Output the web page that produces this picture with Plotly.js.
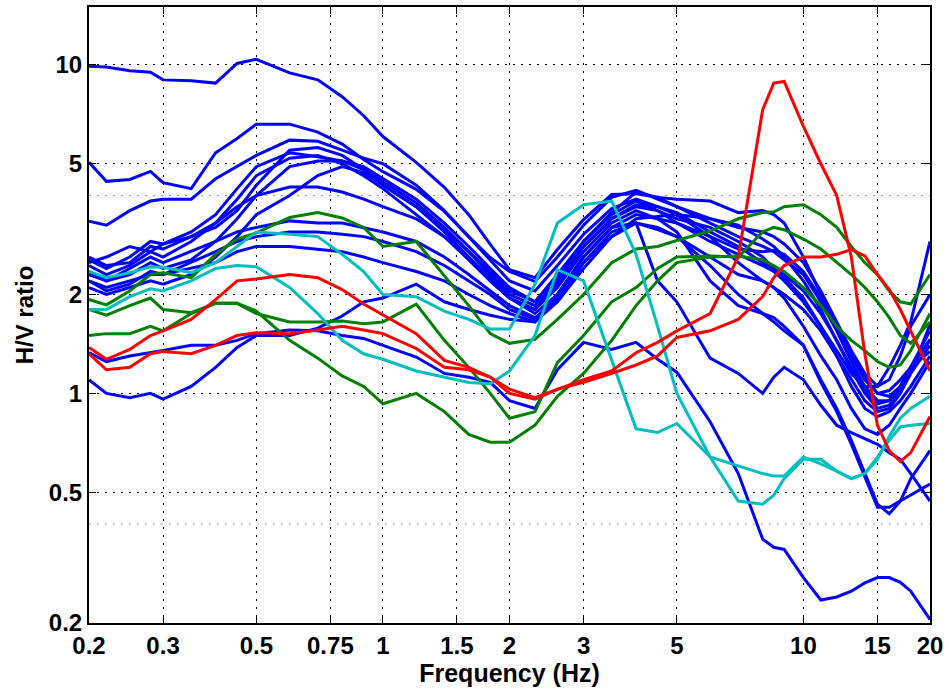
<!DOCTYPE html>
<html>
<head>
<meta charset="utf-8">
<script src="https://cdn.plot.ly/plotly-3.0.1.min.js"></script>
<style>html,body{margin:0;padding:0;background:#fff;}#chart{width:949px;height:693px;}</style>
</head>
<body>
<div id="chart"></div>
<script>
// Frequency grid (Hz)
const freq = [0.2,0.22,0.25,0.28,0.3,0.35,0.4,0.45,0.5,0.6,0.7,0.8,0.9,1,1.2,1.4,1.6,1.8,2,2.3,2.6,3,3.5,4,4.5,5,6,7,8,8.5,9,10,11,12,13,14,15,16,17,18,20];

// Blue H/V curves
const blue1 = [9.9,9.85,9.6,9.5,9.0,8.95,8.8,10.1,10.4, 9.45,9.0,8.0,7.0,6.05, 5.05,4.24,3.5,2.84,2.38, 2.25,2.74,3.38,4.03,4.05, 3.95,3.9, 3.85,3.55,3.6,3.5,3.3, 2.6,2.0,1.6,1.3,1.1,1.0,1.02,1.1,1.2,1.34];
const blue2 = [5.05,4.42,4.48,4.74,4.38,4.2,5.4,5.97,6.6, 6.6,6.24,5.74,5.15,4.73, 4.18,3.58,3.0,2.59,2.35, 2.19,2.6,3.25,3.95,4.15, 3.9,3.7, 3.3,3.0,2.8,2.7,2.55, 2.3,1.9,1.55,1.25,1.05,0.95,0.95,1.05,1.2,1.46];
const blue3 = [3.34,3.25,3.6,3.85,3.9,3.9,4.5,4.9,5.3, 5.9,5.85,5.5,5.2,5.0, 4.3,3.6,3.0,2.55,2.2, 2.05,2.45,3.05,3.65,3.9, 3.7,3.5, 3.0,2.5,2.2,2.1,2.0, 1.8,1.55,1.3,1.1,0.95,0.88,0.9,1.0,1.15,1.62];
const blue4 = [2.55,2.4,2.6,2.9,2.85,3.1,3.5,4.2,4.9, 5.4,5.25,5.1,4.8,4.4, 3.8,3.2,2.7,2.3,2.0, 1.85,2.2,2.8,3.4,3.7, 3.6,3.4, 3.2,2.9,2.6,2.4,2.25, 1.95,1.6,1.3,1.05,0.9,0.85,0.88,0.95,1.05,1.3];
const blue5 = [2.45,2.3,2.45,2.7,2.6,2.9,3.3,3.9,4.6, 5.2,5.3,5.0,4.6,4.2, 3.5,3.0,2.55,2.2,1.95, 1.8,2.1,2.7,3.3,3.6, 3.4,3.1, 2.2,1.85,1.75,1.7,1.6, 1.4,1.1,0.9,0.72,0.57,0.46,0.43,0.47,0.55,0.67];
const blue6 = [2.35,2.2,2.3,2.5,2.4,2.55,2.9,3.4,4.0, 4.9,5.1,5.1,4.9,4.5, 3.9,3.3,2.8,2.4,2.1, 1.9,2.3,2.9,3.5,3.85, 3.6,3.3, 2.9,2.65,2.45,2.35,2.2, 1.9,1.6,1.35,1.15,1.05,1.05,1.2,1.4,1.65,2.9];
const blue7 = [2.5,2.6,2.8,2.7,2.85,3.0,3.3,3.7,4.0, 4.25,4.25,4.1,3.9,3.7, 3.4,3.0,2.6,2.25,1.95, 1.75,2.0,2.6,3.2,3.5, 3.4,3.3, 3.0,2.75,2.7,2.72,2.65, 2.35,1.95,1.6,1.3,1.12,1.0,0.98,1.05,1.2,1.55];
const blue8 = [2.3,2.2,2.4,2.6,2.5,2.7,2.9,3.1,3.2, 3.35,3.3,3.3,3.2,3.1, 2.9,2.6,2.3,2.05,1.85, 1.7,1.9,2.4,3.0,3.4, 3.45,3.5, 3.4,3.2,3.1,3.0,2.85, 2.5,2.05,1.65,1.35,1.15,1.05,1.1,1.3,1.6,2.0];
const blue9 = [2.2,2.1,2.2,2.3,2.3,2.4,2.5,2.7,2.8, 2.8,2.75,2.7,2.6,2.5, 2.35,2.2,2.0,1.85,1.75, 1.65,1.9,2.5,3.1,3.3, 3.15,3.0, 2.6,2.3,2.2,2.1,1.95, 1.6,1.3,1.1,0.9,0.78,0.75,0.8,0.9,1.0,1.25];
const blue10 = [2.2,2.05,2.15,2.35,2.3,2.5,2.7,2.9,3.0, 3.1,3.1,3.05,3.0,2.9, 2.7,2.45,2.2,2.0,1.8, 1.68,2.0,2.6,3.2,3.3, 2.2,1.9, 1.28,1.15,1.0,1.12,1.2, 1.1,0.92,0.8,0.76,0.73,0.7,0.66,0.63,0.57,0.47];
const blue11 = [2.1,2.0,2.1,2.2,2.15,2.3,2.6,3.0,3.5, 4.0,4.6,4.9,4.7,4.3, 3.7,3.1,2.6,2.2,1.95, 1.8,2.15,2.8,3.4,3.75, 3.7,3.55, 3.1,2.8,2.5,2.4,2.3, 2.05,1.75,1.45,1.2,1.02,0.93,0.95,1.05,1.2,1.45];
const blue12 = [2.6,2.45,2.5,2.8,2.75,3.0,3.2,3.6,4.3, 5.5,5.6,5.3,4.8,4.3, 3.7,3.15,2.7,2.35,2.05, 1.9,2.25,2.9,3.55,4.1, 3.95,3.7, 3.4,3.25,2.95,2.8,2.6, 2.2,1.8,1.45,1.18,1.0,0.9,0.92,1.02,1.15,1.4];
const blue13 = [1.1,1.0,0.97,1.0,0.96,1.05,1.2,1.38,1.5, 1.5,1.58,1.72,1.9,1.95, 2.15,1.9,1.8,1.73,1.68, 1.65,1.95,2.5,3.0,3.3, 3.2,3.0, 2.45,2.0,1.75,1.65,1.55, 1.4,1.08,0.88,0.7,0.56,0.45,0.45,0.47,0.49,0.53];
const blue14 = [1.33,1.25,1.3,1.33,1.35,1.4,1.4,1.45,1.52, 1.56,1.55,1.5,1.47,1.4, 1.29,1.15,1.12,1.08,0.95, 0.9,1.18,1.43,1.36,1.43, 1.27,1.16, 0.82,0.57,0.36,0.34,0.335, 0.275,0.235,0.24,0.25,0.265,0.275,0.275,0.266,0.25,0.205];

// Green curves
const green1 = [1.93,1.86,2.05,2.3,2.33,2.25,2.65,2.95,3.08, 3.43,3.55,3.42,3.2,2.8, 2.9,2.27,1.85,1.52,1.42, 1.46,1.68,2.0,2.5,2.75, 2.8,2.92, 3.12,3.4,3.55,3.57,3.7, 3.75,3.5,3.2,2.8,2.5,2.3,2.05,1.9,1.87,2.3];
const green2 = [1.8,1.73,1.85,1.95,1.8,1.76,1.88,1.88,1.75, 1.65,1.65,1.66,1.63,1.65, 1.87,1.45,1.2,1.0,0.84, 0.88,1.24,1.5,1.9,2.1, 2.4,2.6, 2.62,2.6,3.1,3.2,3.15, 2.95,2.75,2.5,2.3,2.1,1.9,1.7,1.5,1.42,1.65];
const green3 = [1.5,1.52,1.52,1.6,1.55,1.75,1.88,1.88,1.78, 1.45,1.28,1.13,1.05,0.93, 1.0,0.88,0.75,0.71,0.71, 0.8,0.98,1.15,1.45,1.85, 2.2,2.5, 2.6,2.62,2.55,2.45,2.35, 2.1,1.85,1.6,1.45,1.35,1.25,1.2,1.22,1.35,1.75];

// Cyan curves
const cyan1 = [2.35,2.25,2.33,2.43,2.42,2.33,2.5,2.8,3.1, 3.05,3.0,2.65,2.35,2.0, 1.97,1.78,1.68,1.57,1.57, 2.15,3.3,3.75,3.85,2.65, 1.6,1.0, 0.64,0.47,0.46,0.49,0.55, 0.63,0.63,0.58,0.55,0.57,0.63,0.74,0.84,0.9,0.98];
const cyan2 = [1.8,1.8,1.97,2.08,2.05,2.2,2.4,2.45,2.43, 2.1,1.75,1.45,1.32,1.27, 1.17,1.12,1.08,1.07,1.17, 1.5,2.38,2.2,1.27,0.78, 0.76,0.81, 0.64,0.6,0.57,0.56,0.56, 0.64,0.61,0.58,0.55,0.57,0.64,0.72,0.79,0.8,0.81];

// Red curves
const red1 = [1.38,1.27,1.36,1.5,1.55,1.68,1.93,2.2,2.23, 2.3,2.25,2.07,1.87,1.73, 1.52,1.26,1.2,1.12,1.03, 0.97,1.03,1.1,1.17,1.33, 1.43,1.55, 1.75,2.6,7.3,8.8,8.9, 6.5,5.0,4.0,2.6,1.32,0.8,0.67,0.62,0.66,0.85];
const red2 = [1.32,1.18,1.2,1.32,1.34,1.32,1.4,1.5,1.53, 1.52,1.56,1.6,1.56,1.52, 1.37,1.2,1.18,1.12,1.0, 0.96,1.03,1.08,1.15,1.22, 1.3,1.48, 1.55,1.68,1.97,2.25,2.45, 2.6,2.6,2.65,2.74,2.62,2.3,2.07,1.8,1.55,1.17];

// Axis ticks
const xTicks = [0.2,0.3,0.5,0.75,1,1.5,2,3,5,10,15,20];
const xTickText = ['0.2','0.3','0.5','0.75','1','1.5','2','3','5','10','15','20'];
const yTicks = [0.2,0.5,1,2,5,10];
const yTickText = ['0.2','0.5','1','2','5','10'];
const yExtraGrid = [0.4,4];

const groups = [
  {color:'#0000ff', series:[blue1,blue2,blue3,blue4,blue5,blue6,blue7,blue8,blue9,blue10,blue11,blue12,blue13,blue14]},
  {color:'#008000', series:[green1,green2,green3]},
  {color:'#00bfbf', series:[cyan1,cyan2]},
  {color:'#ff0000', series:[red1,red2]}
];

const traces = [];
groups.forEach(g => g.series.forEach(s => traces.push({
  x: freq, y: s, type:'scatter', mode:'lines',
  line:{color:g.color, width:3}, hoverinfo:'skip'
})));

const FONT = '"Liberation Sans", Arial, Helvetica, sans-serif';
const gridDash = '2px,6px';

const layout = {
  width:949, height:693,
  margin:{l:89, r:19, t:7, b:70, pad:0},
  paper_bgcolor:'#ffffff', plot_bgcolor:'#ffffff',
  showlegend:false,
  font:{family:FONT, color:'#000'},
  xaxis:{
    type:'log', range:[Math.log10(0.2), Math.log10(20)],
    tickmode:'array', tickvals:xTicks, ticktext:xTickText,
    tickfont:{family:FONT, size:24, weight:'bold', color:'#000'},
    ticks:'inside', ticklen:7, tickwidth:1, tickcolor:'#000',
    showline:true, linecolor:'#000', linewidth:2, mirror:'ticks',
    showgrid:true, gridcolor:'#000', gridwidth:1, griddash:gridDash,
    zeroline:false, automargin:false,
    title:{text:'Frequency (Hz)', font:{family:FONT, size:25, weight:'bold', color:'#000'}, standoff:3}
  },
  yaxis:{
    type:'log', range:[Math.log10(0.2), Math.log10(15)],
    tickmode:'array', tickvals:yTicks, ticktext:yTickText,
    tickfont:{family:FONT, size:24, weight:'bold', color:'#000'},
    ticks:'inside', ticklen:7, tickwidth:1, tickcolor:'#000',
    showline:true, linecolor:'#000', linewidth:2, mirror:'ticks',
    showgrid:true, gridcolor:'#000', gridwidth:1, griddash:gridDash,
    zeroline:false, automargin:false,
    title:{text:'H/V ratio', font:{family:FONT, size:24, weight:'bold', color:'#000'}, standoff:8}
  },
  shapes: yExtraGrid.map(v => ({
    type:'line', xref:'paper', x0:0, x1:1, yref:'y', y0:v, y1:v,
    line:{color:'#999999', width:1, dash:gridDash}, layer:'below'
  }))
};

Plotly.newPlot('chart', traces, layout, {staticPlot:true, displayModeBar:false});
</script>
</body>
</html>
